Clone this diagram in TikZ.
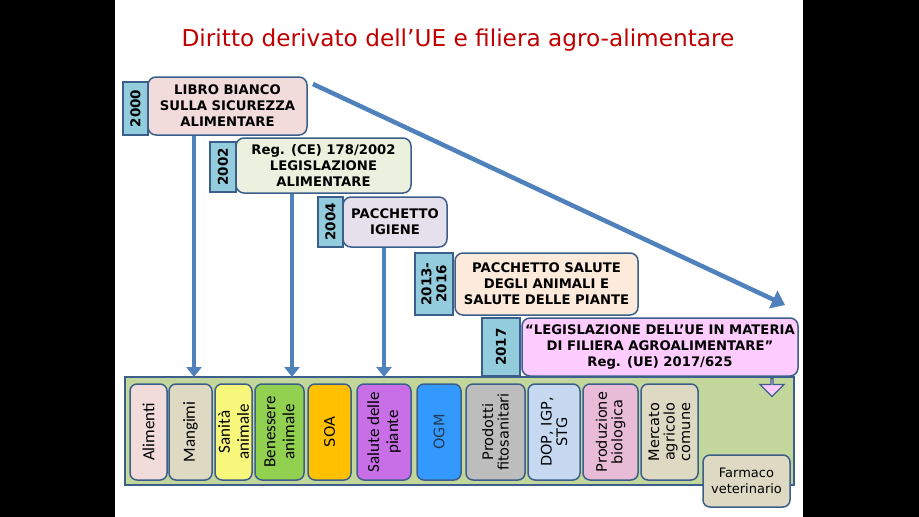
\documentclass[tikz,border=0pt]{standalone}
\usepackage{fontspec}
\setmainfont{DejaVu Sans}
\newfontfamily\calibfont{Carlito}
\usetikzlibrary{arrows.meta}
\usetikzlibrary{shapes.arrows}

\definecolor{slidered}{HTML}{C00000}
\definecolor{edgeblue}{HTML}{3B5F8A}
\definecolor{arrowblue}{HTML}{4F81BD}
\definecolor{yearaqua}{HTML}{93CDDD}
\definecolor{pinkpale}{HTML}{F2DCDB}
\definecolor{greenpale}{HTML}{EBF1DE}
\definecolor{lavender}{HTML}{E6E0EC}
\definecolor{peach}{HTML}{FDEADA}
\definecolor{pinkbright}{HTML}{FFCCFF}
\definecolor{panelgreen}{HTML}{C3D69B}
\definecolor{tan}{HTML}{DDD9C3}
\definecolor{lemon}{HTML}{F7F77C}
\definecolor{leafgreen}{HTML}{92D050}
\definecolor{amber}{HTML}{FFC000}
\definecolor{violet}{HTML}{C86FE8}
\definecolor{ogmblue}{HTML}{3399FF}
\definecolor{stone}{HTML}{BDBDBD}
\definecolor{skyblue}{HTML}{C6D9F1}
\definecolor{rosebio}{HTML}{E8BCD6}

\tikzset{
  yearbox/.style={draw=edgeblue, line width=1.2pt, fill=yearaqua, rotate=90,
    align=center, inner sep=0pt, font=\bfseries\fontsize{13.5}{15}\selectfont},
  actbox/.style={draw=edgeblue, line width=1.5pt, rounded corners=8pt,
    align=center, inner sep=0pt, font=\bfseries\fontsize{13.2}{16}\selectfont},
  areabox/.style={draw=edgeblue, line width=1.5pt, rounded corners=7pt,
    rotate=90, align=center, inner sep=0pt, minimum width=96pt},
  calibtext/.style={font=\calibfont\fontsize{17}{19}\selectfont},
  verdtext/.style={font=\fontsize{14.5}{15.5}\selectfont},
  flow/.style={draw=arrowblue, line width=4.5pt, -{Triangle[width=15pt,length=10pt]}},
}

\begin{document}
\begin{tikzpicture}[x=1pt,y=-1pt]
  % slide
  \fill[black] (0,0) rectangle (919,517);
  \fill[white] (115,0) rectangle (803,517);
  \node[text=slidered, font=\fontsize{23.2}{27}\selectfont] (title) at (458,40)
    {Diritto derivato dell’UE e filiera agro-alimentare};

  % timeline of acts
  \node[yearbox, minimum width=53pt, minimum height=25pt] (y2000) at (135.5,108.5) {2000};
  \node[actbox, fill=pinkpale, minimum width=159pt, minimum height=58pt] (libro) at (227.5,106)
    {LIBRO BIANCO\\SULLA SICUREZZA\\ALIMENTARE};

  \node[yearbox, minimum width=50pt, minimum height=26pt] (y2002) at (223,167) {2002};
  \node[actbox, fill=greenpale, minimum width=175pt, minimum height=55pt] (reg178) at (323.5,165.5)
    {Reg. (CE) 178/2002\\LEGISLAZIONE\\ALIMENTARE};

  \node[yearbox, minimum width=50pt, minimum height=25pt] (y2004) at (330.5,222) {2004};
  \node[actbox, fill=lavender, minimum width=104pt, minimum height=50pt] (igiene) at (395,222)
    {PACCHETTO\\IGIENE};

  \node[yearbox, minimum width=62pt, minimum height=38pt] (y2013) at (434,284) {2013-\\2016};
  \node[actbox, fill=peach, minimum width=183pt, minimum height=62pt] (sanita) at (546.5,284)
    {PACCHETTO SALUTE\\DEGLI ANIMALI E\\SALUTE DELLE PIANTE};

  \node[yearbox, minimum width=58pt, minimum height=38pt] (y2017) at (501,347) {2017};
  \node[actbox, fill=pinkbright, minimum width=276pt, minimum height=58pt] (reg625) at (660,347)
    {“LEGISLAZIONE DELL’UE IN MATERIA\\DI FILIERA AGROALIMENTARE”\\Reg. (UE) 2017/625};

  % areas of the chain
  \node[draw=edgeblue, line width=1.5pt, fill=panelgreen, minimum width=669pt,
    minimum height=108pt, inner sep=0pt] (panel) at (459.5,431) {};

  \node[areabox, fill=pinkpale, minimum height=37pt, calibtext] (alimenti) at (148.5,432) {Alimenti};
  \node[areabox, fill=tan, minimum height=43pt, calibtext] (mangimi) at (190.5,432) {Mangimi};
  \node[areabox, fill=lemon, minimum height=37pt, calibtext] (sanitaan) at (233.5,432) {Sanità\\animale};
  \node[areabox, fill=leafgreen, minimum height=49pt, calibtext] (benessere) at (279.5,432) {Benessere\\animale};
  \node[areabox, fill=amber, minimum height=43pt, verdtext] (soa) at (329.5,432) {SOA};
  \node[areabox, fill=violet, minimum height=54pt, calibtext] (piante) at (384,432) {Salute delle\\piante};
  \node[areabox, fill=ogmblue, minimum height=44pt, verdtext, text=edgeblue!60!black] (ogm) at (439,432) {OGM};
  \node[areabox, fill=stone, minimum height=59pt, verdtext] (fitosan) at (495.5,432) {Prodotti\\fitosanitari};
  \node[areabox, fill=skyblue, minimum height=52pt, verdtext] (dop) at (554,432) {DOP, IGP,\\STG};
  \node[areabox, fill=rosebio, minimum height=55pt, verdtext] (bio) at (610.5,432) {Produzione\\biologica};
  \node[areabox, fill=tan, minimum height=57pt, verdtext] (mercato) at (669.5,432) {Mercato\\agricolo\\comune};
  \node[draw=edgeblue, line width=1.5pt, rounded corners=7pt, fill=tan, align=center,
    inner sep=0pt, minimum width=87pt, minimum height=52pt, font=\fontsize{13}{16}\selectfont]
    (farmaco) at (746.5,481) {Farmaco\\veterinario};

  \node[single arrow, shape border rotate=270, draw=edgeblue, line width=1.2pt, fill=pinkbright,
    minimum height=18pt, minimum width=24pt, single arrow head extend=6pt, inner sep=0pt]
    (down) at (772,387) {};

  % arrows into the chain
  \coordinate (in1) at (194,377);
  \coordinate (in2) at (292,377);
  \coordinate (in3) at (384,377);
  \draw[flow] (libro.south -| in1) -- (in1);
  \draw[flow] (reg178.south -| in2) -- (in2);
  \draw[flow] (igiene.south -| in3) -- (in3);

  \coordinate (trend0) at (313,84);
  \coordinate (trend1) at (785,305);
  \draw[flow, -{Triangle[width=19pt,length=13pt]}] (trend0) -- (trend1);
\end{tikzpicture}
\end{document}
